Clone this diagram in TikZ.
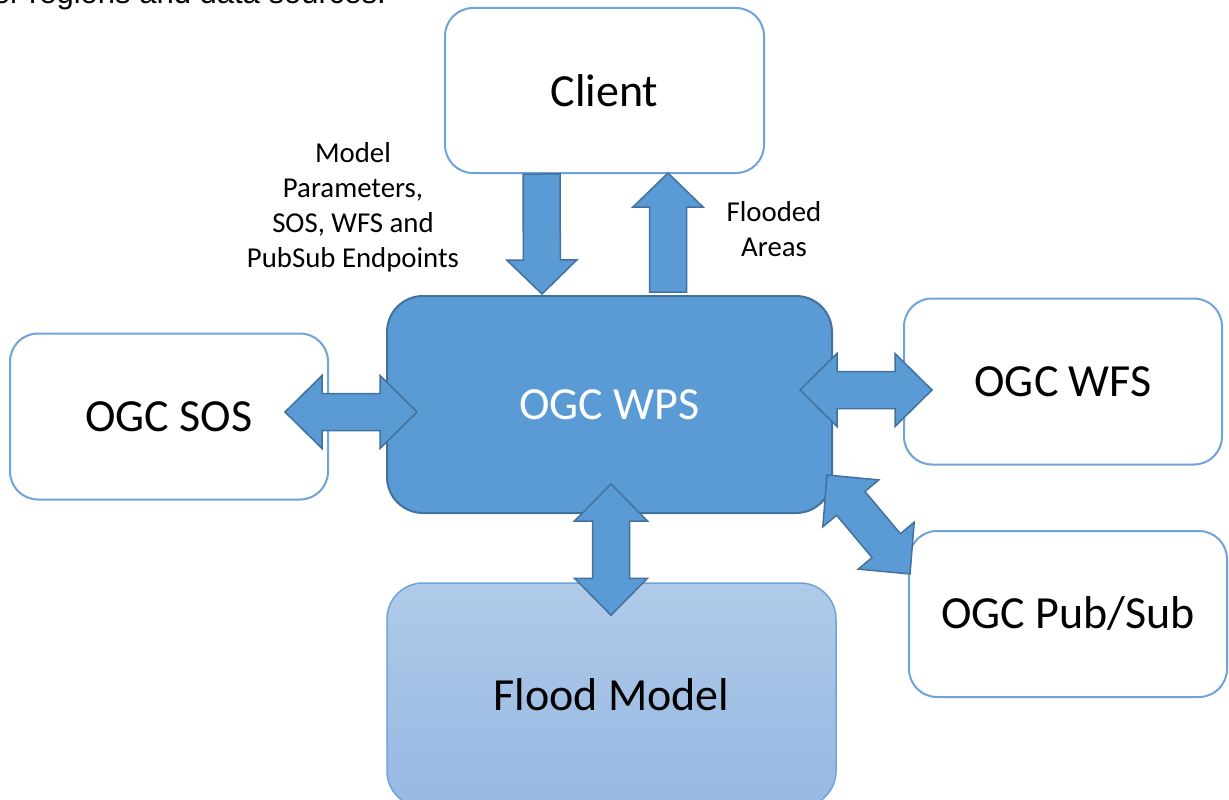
\documentclass[tikz,border=0pt]{standalone}
\usepackage{fontspec}
\setmainfont{Carlito}
\newfontfamily\captionfont{Liberation Sans}
\usetikzlibrary{calc}

\definecolor{wpsblue}{HTML}{5B9BD5}
\definecolor{wpsedge}{HTML}{41719C}
\definecolor{boxedge}{HTML}{6FA3DA}
\definecolor{floodtop}{HTML}{B0CAE9}
\definecolor{floodbot}{HTML}{96B8E2}

% arrow sizes
\def\arrhead{37pt}
\def\arrhalf{36.5pt}
\def\arrshaft{18.5pt}
\def\arrtip{34pt}
\def\arrwide{35pt}

% block arrow with two heads, from #1 to #2
\newcommand{\twowayarrow}[2]{%
  \draw[blockarrow] (#1)
    -- ($(#1)!\arrhead!(#2)!\arrhalf!90:(#2)$)
    -- ($(#1)!\arrhead!(#2)!\arrshaft!90:(#2)$)
    -- ($(#2)!\arrhead!(#1)!\arrshaft!-90:(#1)$)
    -- ($(#2)!\arrhead!(#1)!\arrhalf!-90:(#1)$)
    -- (#2)
    -- ($(#2)!\arrhead!(#1)!\arrhalf!90:(#1)$)
    -- ($(#2)!\arrhead!(#1)!\arrshaft!90:(#1)$)
    -- ($(#1)!\arrhead!(#2)!\arrshaft!-90:(#2)$)
    -- ($(#1)!\arrhead!(#2)!\arrhalf!-90:(#2)$)
    -- cycle;}

% block arrow with one head, tail #1, tip #2
\newcommand{\onewayarrow}[2]{%
  \draw[blockarrow] ($(#1)!\arrshaft!90:(#2)$)
    -- ($(#2)!\arrtip!(#1)!\arrshaft!-90:(#1)$)
    -- ($(#2)!\arrtip!(#1)!\arrwide!-90:(#1)$)
    -- (#2)
    -- ($(#2)!\arrtip!(#1)!\arrwide!90:(#1)$)
    -- ($(#2)!\arrtip!(#1)!\arrshaft!90:(#1)$)
    -- ($(#1)!\arrshaft!-90:(#2)$)
    -- cycle;}

\begin{document}
\begin{tikzpicture}[x=1pt,y=-1pt,
  whitebox/.style={draw=boxedge,line width=2pt,fill=white,rounded corners=28pt,
    minimum width=318pt,minimum height=166pt,inner sep=0pt,
    font=\fontsize{46}{50}\selectfont},
  blockarrow/.style={fill=wpsblue,draw=wpsedge,line width=1.5pt,line join=miter},
  note/.style={align=center,font=\fontsize{28.8}{35}\selectfont}]
\clip (0,0) rectangle (1229,800);
\fill[white] (0,0) rectangle (1229,800);
\node[anchor=base east,inner sep=0pt,font=\captionfont\fontsize{31}{36}\selectfont] (cut) at (386,4) {other regions and data sources.};

\node[whitebox,minimum width=319pt,minimum height=165pt] (client) at (604.5,90.5) {Client};
\node[draw=wpsedge,line width=2pt,fill=wpsblue,rounded corners=36pt,
  minimum width=445pt,minimum height=217pt,text=white,
  font=\fontsize{46}{50}\selectfont] (wps) at (609.5,404.5) {OGC WPS};
\node[whitebox] (sos) at (169,416.5) {OGC SOS};
\node[whitebox] (wfs) at (1063,381.5) {OGC WFS};
\node[whitebox] (pubsub) at (1068,614) {OGC Pub/Sub};
\node[draw=boxedge,line width=1.5pt,top color=floodtop,bottom color=floodbot,
  rounded corners=36pt,minimum width=449pt,minimum height=224pt,
  font=\fontsize{46}{50}\selectfont] (flood) at (611.5,695) {Flood Model};

\node[note] (params) at (353,207.5) {Model\\Parameters,\\SOS, WFS and\\PubSub Endpoints};
\node[note] (areas) at (774,229.5) {Flooded\\Areas};

% arrow ends
\coordinate (c1) at ($(client.south)+(-63,0)$);
\coordinate (w1) at ($(wps.north)+(-67.5,-1)$);
\coordinate (w2) at ($(wps.north)+(58.5,-3)$);
\coordinate (c2) at ($(client.south)+(63.5,-1)$);
\coordinate (s1) at ($(sos.east)+(-44,-4.5)$);
\coordinate (w3) at ($(wps.west)+(31,7.5)$);
\coordinate (w4) at ($(wps.east)+(-33,-14.5)$);
\coordinate (f1) at ($(wfs.west)+(29,8.5)$);
\coordinate (w5) at ($(wps.south)+(1.5,-30)$);
\coordinate (m1) at ($(flood.north)+(-0.5,33)$);
\coordinate (w6) at ($(wps.south east)+(-6,-39)$);
\coordinate (p1) at ($(pubsub.north west)+(2,44)$);

\onewayarrow{c1}{w1}
\onewayarrow{w2}{c2}
\twowayarrow{s1}{w3}
\twowayarrow{w4}{f1}
\twowayarrow{w5}{m1}
\twowayarrow{w6}{p1}
\end{tikzpicture}
\end{document}
